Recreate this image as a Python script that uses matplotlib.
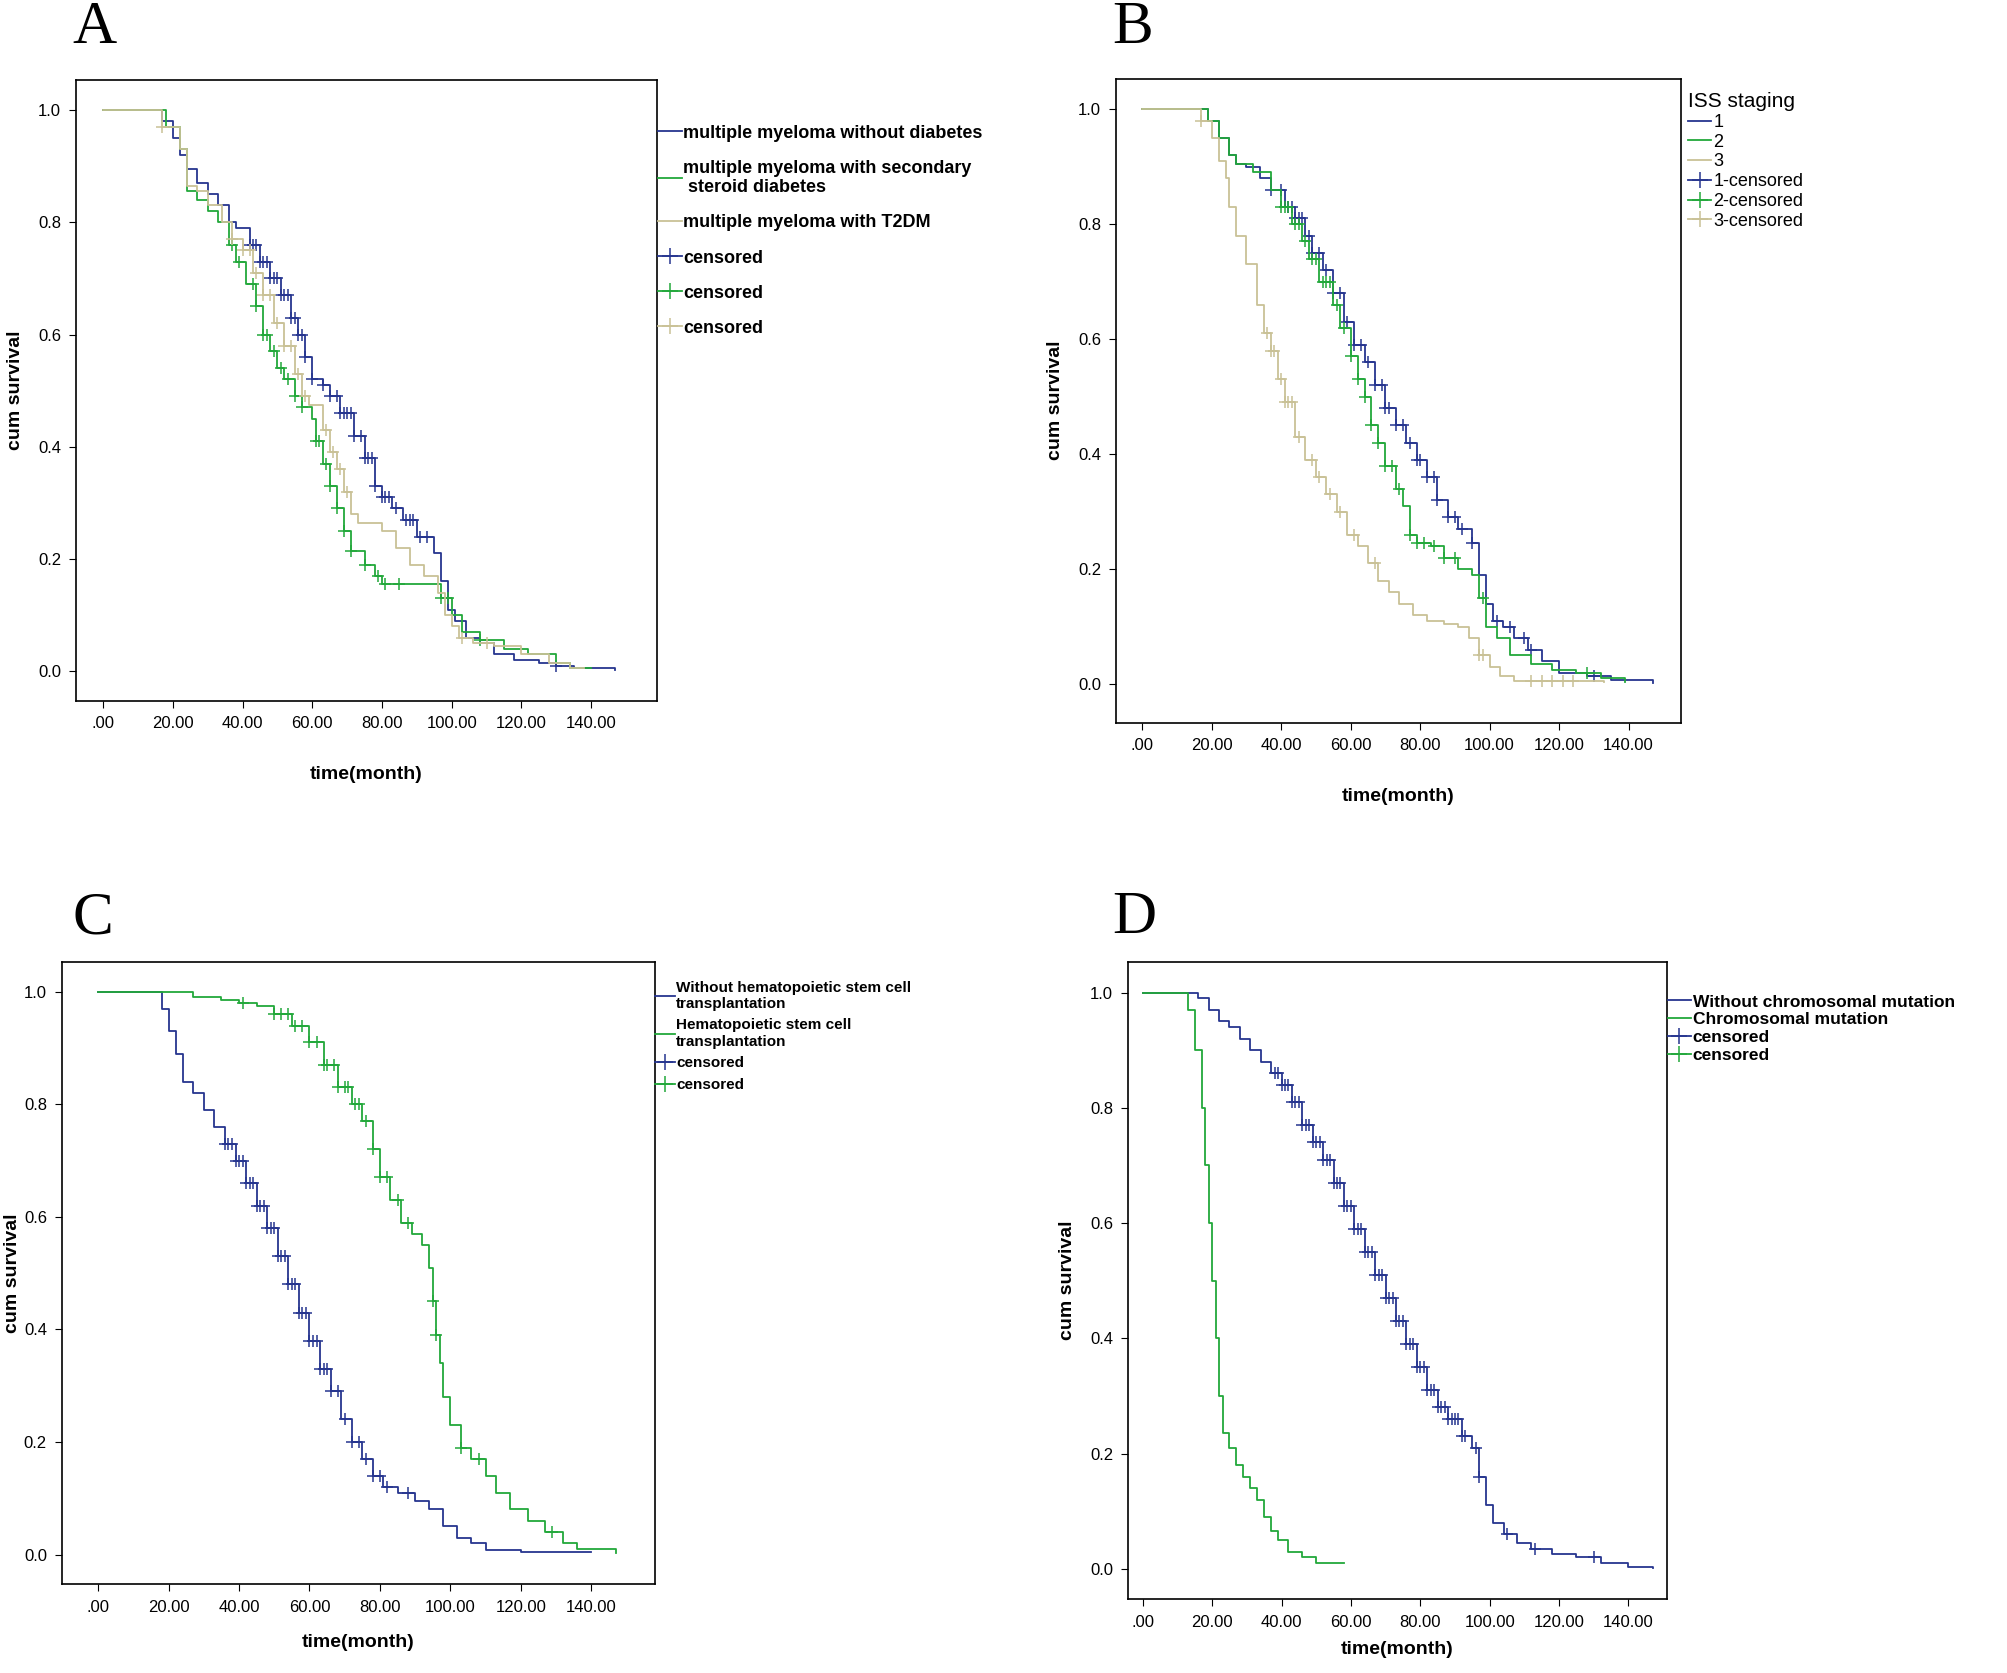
import numpy as np
import matplotlib.pyplot as plt
from matplotlib.lines import Line2D

BLUE = '#26358f'
GREEN = '#22a83a'
KHAKI = '#c9c196'

# ---- panel A: diabetes groups ----
a_blue_t = [0, 14, 17, 20, 22, 24, 27, 30, 33, 36, 38, 42, 45, 48, 51, 54, 56, 58, 60, 63, 65, 68, 72, 75, 78, 80, 83, 86, 90, 95, 97, 99, 101, 104, 108, 112, 118, 125, 130, 135, 147]
a_blue_s = [1, 1, .98, .95, .92, .895, .87, .85, .83, .80, .79, .76, .73, .70, .67, .63, .60, .56, .52, .51, .49, .46, .42, .38, .33, .31, .29, .27, .24, .21, .16, .11, .09, .06, .05, .03, .02, .015, .01, .005, .002]
a_blue_c = [42, 43, 44, 45, 46, 47, 48, 49, 50, 51, 52, 53, 54, 55, 56, 57, 58, 60, 63, 65, 67, 68, 69, 70, 71, 72, 74, 75, 76, 77, 78, 80, 81, 82, 84, 87, 88, 89, 91, 93, 130]
a_green_t = [0, 14, 18, 22, 24, 27, 30, 33, 36, 38, 41, 44, 46, 48, 50, 52, 55, 57, 60, 61, 63, 65, 67, 69, 71, 75, 78, 80, 96, 97, 100, 103, 108, 115, 122, 130, 134, 140]
a_green_s = [1, 1, .97, .93, .855, .84, .82, .80, .76, .73, .69, .65, .60, .57, .54, .52, .49, .47, .45, .41, .37, .33, .29, .25, .215, .19, .17, .155, .155, .13, .10, .07, .055, .04, .03, .015, .005, .005]
a_green_c = [37, 39, 43, 44, 46, 47, 49, 51, 53, 55, 57, 61, 62, 64, 65, 67, 69, 71, 75, 79, 81, 85, 97, 99, 108]
a_khaki_t = [0, 14, 17, 22, 24, 27, 30, 34, 37, 40, 43, 46, 49, 52, 55, 57, 59, 61, 63, 65, 67, 69, 71, 73, 77, 80, 84, 88, 92, 96, 98, 100, 102, 106, 112, 120, 128, 134, 138]
a_khaki_s = [1, 1, .97, .93, .865, .855, .83, .80, .77, .75, .71, .67, .62, .58, .53, .49, .475, .475, .43, .39, .36, .32, .28, .265, .265, .25, .22, .19, .17, .14, .10, .08, .06, .05, .045, .03, .015, .005, .005]
a_khaki_c = [17, 37, 40, 42, 44, 46, 48, 50, 52, 54, 56, 58, 64, 66, 68, 70, 103, 110]

# ---- panel B: ISS staging ----
b1_t = [0, 16, 19, 22, 25, 27, 30, 34, 37, 41, 44, 47, 49, 52, 55, 58, 61, 64, 67, 70, 73, 76, 79, 82, 85, 88, 91, 95, 97, 99, 101, 104, 107, 111, 115, 120, 128, 135, 147]
b1_s = [1, 1, .98, .95, .92, .905, .90, .88, .86, .83, .81, .78, .75, .72, .68, .63, .59, .56, .52, .48, .45, .42, .39, .36, .32, .29, .27, .245, .19, .14, .11, .10, .08, .06, .04, .02, .015, .008, .002]
b1_c = [37, 40, 42, 43, 44, 45, 46, 48, 49, 51, 53, 55, 57, 59, 61, 63, 65, 67, 69, 70, 71, 73, 75, 77, 79, 80, 82, 84, 85, 88, 90, 92, 95, 102, 106, 110, 112, 130]
b2_t = [0, 15, 19, 22, 25, 27, 32, 37, 40, 43, 46, 48, 51, 55, 57, 60, 62, 64, 66, 68, 70, 73, 75, 77, 79, 83, 87, 91, 95, 97, 99, 102, 106, 112, 118, 125, 132, 139]
b2_s = [1, 1, .98, .95, .92, .905, .89, .86, .83, .80, .77, .74, .70, .66, .62, .57, .53, .50, .45, .42, .38, .34, .31, .26, .245, .24, .22, .20, .19, .15, .10, .08, .05, .035, .025, .02, .01, .003]
b2_c = [40, 41, 42, 44, 45, 47, 49, 50, 52, 53, 54, 56, 58, 60, 62, 64, 66, 68, 70, 72, 74, 77, 79, 81, 84, 87, 90, 98, 128]
b3_t = [0, 14, 17, 20, 22, 24, 25, 27, 30, 33, 35, 37, 39, 41, 44, 47, 50, 53, 56, 59, 62, 65, 68, 71, 74, 78, 82, 87, 91, 94, 97, 100, 103, 107, 115, 133]
b3_s = [1, 1, .98, .95, .91, .88, .83, .78, .73, .66, .61, .58, .53, .49, .43, .39, .36, .33, .30, .26, .24, .21, .18, .16, .14, .12, .11, .105, .10, .08, .05, .03, .015, .005, .005, .003]
b3_c = [17, 36, 37, 38, 40, 41, 42, 43, 45, 49, 51, 54, 57, 61, 67, 97, 98, 112, 115, 118, 121, 124]

# ---- panel C: stem cell transplantation ----
c_blue_t = [0, 15, 18, 20, 22, 24, 27, 30, 33, 36, 39, 42, 45, 48, 51, 54, 57, 60, 63, 66, 69, 72, 75, 78, 81, 85, 90, 94, 98, 102, 106, 110, 120, 140]
c_blue_s = [1, 1, .97, .93, .89, .84, .82, .79, .76, .73, .70, .66, .62, .58, .53, .48, .43, .38, .33, .29, .24, .20, .17, .14, .12, .11, .095, .08, .05, .03, .02, .008, .005, .005]
c_blue_c = [36, 37, 38, 39, 40, 41, 42, 43, 44, 45, 46, 47, 48, 49, 50, 51, 52, 53, 54, 55, 56, 57, 58, 59, 60, 61, 62, 63, 64, 65, 66, 68, 70, 72, 74, 76, 78, 80, 82, 88]
c_green_t = [0, 24, 27, 35, 40, 45, 50, 55, 60, 64, 68, 72, 75, 78, 80, 83, 86, 89, 92, 94, 95, 96, 97, 98, 100, 103, 106, 110, 113, 117, 122, 127, 132, 136, 145, 147]
c_green_s = [1, 1, .99, .985, .98, .975, .96, .94, .91, .87, .83, .80, .77, .72, .67, .63, .59, .57, .55, .51, .45, .39, .34, .28, .23, .19, .17, .14, .11, .08, .06, .04, .02, .01, .01, .003]
c_green_c = [41, 50, 52, 54, 56, 58, 60, 62, 64, 65, 67, 68, 70, 71, 73, 74, 76, 78, 80, 82, 85, 88, 95, 96, 103, 108, 129]

# ---- panel D: chromosomal mutation ----
d_blue_t = [0, 13, 16, 19, 22, 25, 28, 31, 34, 37, 40, 43, 46, 49, 52, 55, 58, 61, 64, 67, 70, 73, 76, 79, 82, 85, 88, 92, 95, 97, 99, 101, 104, 108, 112, 118, 125, 132, 140, 147]
d_blue_s = [1, 1, .99, .97, .95, .94, .92, .90, .88, .86, .84, .81, .77, .74, .71, .67, .63, .59, .55, .51, .47, .43, .39, .35, .31, .28, .26, .23, .21, .16, .11, .08, .06, .045, .035, .025, .02, .01, .004, .002]
d_blue_c = list(range(38, 94, 1)) + [96, 97, 105, 113, 130]
d_green_t = [0, 10, 13, 15, 17, 18, 19, 20, 21, 22, 23, 25, 27, 29, 31, 33, 35, 37, 39, 42, 46, 50, 58]
d_green_s = [1, 1, .97, .90, .80, .70, .60, .50, .40, .30, .235, .21, .18, .16, .14, .12, .09, .065, .05, .03, .02, .01, .01]
d_green_c = []


def km(ax, t, s, cens, color):
    ax.step(t, s, where='post', color=color, lw=1.3)
    if cens:
        idx = np.searchsorted(t, cens, side='right') - 1
        ax.plot(cens, np.array(s)[idx], ls='none', marker='+', ms=8, mew=1.1, color=color)


def style(ax, xlim, ylim=(-0.053, 1.053), xpad=25, ypad=10):
    ax.set_xlim(*xlim)
    ax.set_ylim(*ylim)
    ax.set_xticks(np.arange(0, 141, 20))
    ax.set_xticklabels(['.00'] + ['%.2f' % v for v in range(20, 141, 20)])
    ax.set_yticks(np.arange(0, 1.01, 0.2))
    ax.set_yticklabels(['%.1f' % v for v in np.arange(0, 1.01, 0.2)])
    ax.tick_params(labelsize=12, length=5, pad=6)
    ax.set_xlabel('time(month)', fontsize=14, fontweight='bold', labelpad=xpad)
    ax.set_ylabel('cum survival', fontsize=14, fontweight='bold', labelpad=ypad)
    for sp in ax.spines.values():
        sp.set_linewidth(1.2)


def handles(colors, marker):
    h = [Line2D([], [], color=c, lw=1.3, drawstyle='steps-post') for c in colors]
    if marker:
        h += [Line2D([], [], color=c, lw=1.3, marker='+', ms=12, mew=1.1) for c in colors]
    return h


plt.rcParams['font.family'] = ['Liberation Sans', 'DejaVu Sans']
fig = plt.figure(figsize=(20.08, 16.73), dpi=100)

axA = fig.add_axes([0.038, 0.581, 0.289, 0.371])
km(axA, a_blue_t, a_blue_s, a_blue_c, BLUE)
km(axA, a_green_t, a_green_s, a_green_c, GREEN)
km(axA, a_khaki_t, a_khaki_s, a_khaki_c, KHAKI)
style(axA, (-7.7, 158.8))
axA.legend(handles([BLUE, GREEN, KHAKI], True),
           ['multiple myeloma without diabetes', 'multiple myeloma with secondary\n steroid diabetes',
            'multiple myeloma with T2DM', 'censored', 'censored', 'censored'],
           loc='upper left', bbox_to_anchor=(0.99, 0.94), frameon=False, handlelength=1.3,
           handletextpad=0.1, borderaxespad=0, labelspacing=1.0, prop={'size': 13, 'weight': 'bold'})

axB = fig.add_axes([0.556, 0.568, 0.281, 0.385])
km(axB, b1_t, b1_s, b1_c, BLUE)
km(axB, b2_t, b2_s, b2_c, GREEN)
km(axB, b3_t, b3_s, b3_c, KHAKI)
style(axB, (-7.4, 155), (-0.067, 1.053))
lg = axB.legend(handles([BLUE, GREEN, KHAKI], True),
                ['1', '2', '3', '1-censored', '2-censored', '3-censored'],
                title='ISS staging', loc='upper left', bbox_to_anchor=(1.0, 0.99), frameon=False,
                handlelength=1.3, handletextpad=0.1, borderaxespad=0, labelspacing=0.15,
                fontsize=13, title_fontsize=15)
lg._legend_box.align = 'left'

axC = fig.add_axes([0.031, 0.053, 0.295, 0.372])
km(axC, c_blue_t, c_blue_s, c_blue_c, BLUE)
km(axC, c_green_t, c_green_s, c_green_c, GREEN)
style(axC, (-10.2, 158), xpad=14, ypad=2)
axC.legend(handles([BLUE, GREEN], True),
           ['Without hematopoietic stem cell\ntransplantation', 'Hematopoietic stem cell\ntransplantation',
            'censored', 'censored'],
           loc='upper left', bbox_to_anchor=(0.99, 0.98), frameon=False, handlelength=1.3,
           handletextpad=0.1, borderaxespad=0, labelspacing=0.5, prop={'size': 11, 'weight': 'bold'})

axD = fig.add_axes([0.562, 0.044, 0.268, 0.381])
km(axD, d_blue_t, d_blue_s, d_blue_c, BLUE)
km(axD, d_green_t, d_green_s, d_green_c, GREEN)
style(axD, (-4.1, 151), xpad=8)
axD.legend(handles([BLUE, GREEN], True),
           ['Without chromosomal mutation', 'Chromosomal mutation', 'censored', 'censored'],
           loc='upper left', bbox_to_anchor=(0.99, 0.96), frameon=False, handlelength=1.3,
           handletextpad=0.1, borderaxespad=0, labelspacing=0.15, prop={'size': 12.5, 'weight': 'bold'})

for lab, x, y in [('A', 0.036, 0.983), ('B', 0.554, 0.983), ('C', 0.036, 0.451), ('D', 0.554, 0.451)]:
    fig.text(x, y, lab, fontsize=44, family='Liberation Serif', va='center')

fig.savefig('out.png', dpi=100, facecolor='white')
